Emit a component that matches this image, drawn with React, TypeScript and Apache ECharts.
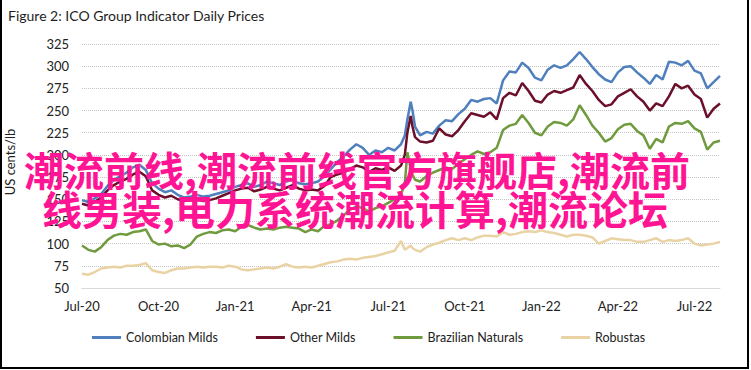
import React, { useEffect, useRef } from 'react';
import * as echarts from 'echarts';

// Sampling positions, in months since 1 July 2020
const MONTHS = [
  0, 0.25, 0.5, 0.75, 1, 1.25, 1.5, 1.75, 2, 2.25, 2.5, 2.75, 3, 3.25, 3.5, 3.75,
  4, 4.25, 4.5, 4.75, 5, 5.25, 5.5, 5.75, 6, 6.25, 6.5, 6.75, 7, 7.25, 7.5, 7.75,
  8, 8.25, 8.5, 8.75, 9, 9.25, 9.5, 9.75, 10, 10.25, 10.5, 10.75, 11, 11.25, 11.5, 11.75,
  12, 12.25, 12.5, 12.65, 12.75, 12.88, 12.95, 13.05,
  13.25, 13.5, 13.75, 14, 14.25, 14.5, 14.75, 15, 15.25, 15.5, 15.75, 16, 16.25, 16.5, 16.75,
  17, 17.25, 17.5, 17.75, 18, 18.25, 18.5, 18.75, 19, 19.25, 19.5, 19.75, 20, 20.25, 20.5, 20.75,
  21, 21.25, 21.5, 21.75, 22, 22.25, 22.5, 22.75, 23, 23.25, 23.5, 23.75, 24, 24.25, 24.5, 24.75, 25,
];

const COLOMBIAN_MILDS = [
  149, 147, 151, 156, 165, 172, 176, 180, 186, 189, 183, 168, 162, 158, 160, 155,
  152, 153, 155, 153, 154, 156, 158, 160, 164, 166, 168, 164, 166, 170, 168, 166,
  170, 172, 168, 167, 168, 170, 176, 184, 192, 198, 206, 212, 208, 200, 205, 203,
  208, 205, 212, 222, 240, 260, 250, 232,
  222, 226, 224, 233, 239, 238, 246, 252, 262, 260, 263, 264, 258, 284, 294,
  293, 304, 298, 287, 284, 296, 301, 298, 301, 308, 316, 308, 299, 291, 285, 282,
  293, 299, 300, 293, 287, 280, 290, 285, 305, 304, 301, 306, 295, 292, 275, 282, 289,
];

const OTHER_MILDS = [
  145, 143, 147, 152, 160, 166, 170, 173, 178, 181, 176, 160, 155, 152, 154, 150,
  148, 149, 150, 148, 149, 151, 154, 157, 160, 162, 163, 159, 161, 164, 162, 160,
  163, 166, 162, 160, 161, 160, 165, 175, 178, 180, 184, 188, 186, 181, 185, 183,
  186, 182, 188, 200, 225, 244, 232, 220,
  215, 214, 216, 230, 223, 221, 228, 238, 247, 245, 243, 248, 240, 264, 270,
  267, 281, 272, 261, 259, 268, 272, 270, 273, 276, 290, 280, 272, 262, 255, 257,
  266, 270, 274, 266, 260, 250, 258, 255, 266, 280, 275, 278, 268, 263, 242, 252, 258,
];

const BRAZILIAN_NATURALS = [
  98, 93, 91, 96, 104, 109, 111, 110, 113, 114, 116, 103, 99, 100, 97, 98,
  95, 99, 108, 111, 113, 112, 115, 116, 114, 119, 121, 118, 116, 117, 116, 118,
  119, 118, 117, 113, 116, 114, 120, 122, 126, 132, 138, 142, 140, 136, 140, 142,
  146, 150, 155, 168, 203, 185, 178, 172,
  170, 176, 180, 183, 186, 184, 190, 195, 200, 204, 201, 203, 208, 228, 233,
  235, 245, 236, 225, 222, 232, 237, 236, 233, 240, 256, 245, 233, 225, 215, 219,
  229, 234, 235, 227, 222, 207, 218, 214, 232, 236, 235, 238, 230, 226, 206, 214, 216,
];

const ROBUSTAS = [
  66, 65, 68, 72, 73, 74, 73, 75, 75, 76, 78, 70, 68, 67, 70, 72,
  72, 73, 74, 73, 74, 74, 73, 75, 74, 71, 70, 71, 72, 73, 72, 74,
  77, 74, 73, 74, 73, 75, 77, 79, 80, 82, 83, 82, 84, 85, 86, 88,
  90, 92, 103, 93, 95, 98, 95, 93,
  91, 96, 99, 101, 104, 106, 104, 106, 104, 107, 109, 109, 108, 113, 110,
  111, 113, 114, 113, 115, 113, 112, 110, 108, 110, 110, 109, 107, 100, 103, 106,
  105, 104, 104, 102, 102, 104, 106, 102, 104, 103, 104, 106, 100, 98, 99, 100, 102,
];

const SERIES_NAMES = ['Colombian Milds', 'Other Milds', 'Brazilian Naturals', 'Robustas'];
const SERIES_VALUES = [COLOMBIAN_MILDS, OTHER_MILDS, BRAZILIAN_NATURALS, ROBUSTAS];
const SERIES_COLORS = ['#4f80bd', '#6b0f2b', '#6f9a3d', '#e9d3a4'];

const X_TICK_LABELS = ['Jul-20', 'Oct-20', 'Jan-21', 'Apr-21', 'Jul-21', 'Oct-21', 'Jan-22', 'Apr-22', 'Jul-22'];
const TITLE = 'Figure 2: ICO Group Indicator Daily Prices';
const Y_NAME = 'US cents/lb';
const OVERLAY_LINES = ['潮流前线,潮流前线官方旗舰店,潮流前', '线男装,电力系统潮流计算,潮流论坛'];

const FONT = 'Lato, "Noto Sans", sans-serif';

export default function App() {
  const ref = useRef<HTMLDivElement>(null);

  useEffect(() => {
    document.body.style.margin = '0';
    if (!ref.current) return;
    const chart = echarts.init(ref.current, null, { renderer: 'svg' });

    const series = SERIES_NAMES.map((name, s) => ({
      name,
      type: 'line',
      data: MONTHS.map((m, i) => [m, SERIES_VALUES[s][i]]),
      showSymbol: false,
      symbol: 'none',
      lineStyle: { width: 2.5, color: SERIES_COLORS[s] },
      itemStyle: { color: SERIES_COLORS[s] },
      z: 2 + s,
    }));

    chart.setOption({
      animation: false,
      textStyle: { fontFamily: FONT },
      title: {
        text: TITLE,
        left: 3,
        top: 3,
        textStyle: { fontSize: 14, fontWeight: 'normal', color: '#1e1e1e', fontFamily: FONT },
      },
      grid: { left: 82, right: 31, top: 44, bottom: 82, containLabel: false },
      legend: {
        data: SERIES_NAMES,
        left: 87,
        top: 326,
        icon: 'rect',
        itemWidth: 29,
        itemHeight: 3,
        itemGap: 38,
        textStyle: { fontSize: 12.5, color: '#222', fontFamily: FONT },
      },
      xAxis: {
        type: 'value',
        min: 0,
        max: 25,
        interval: 3,
        axisLine: { show: true, lineStyle: { color: '#d9d9d9', width: 1 } },
        axisTick: { show: false },
        splitLine: { show: false },
        axisLabel: {
          fontSize: 13,
          color: '#222',
          margin: 11,
          fontFamily: FONT,
          formatter: (v: number) => (v % 3 === 0 && X_TICK_LABELS[v / 3]) ? X_TICK_LABELS[v / 3] : '',
        },
      },
      yAxis: {
        type: 'value',
        min: 50,
        max: 325,
        interval: 25,
        axisLine: { show: false },
        axisTick: { show: false },
        splitLine: { show: true, lineStyle: { type: 'dotted', color: '#c4c4c4', width: 1 } },
        axisLabel: { fontSize: 13, color: '#222', margin: 13, fontFamily: FONT },
      },
      series,
      graphic: [
        {
          type: 'text',
          x: 10,
          y: 162,
          rotation: Math.PI / 2,
          style: {
            text: Y_NAME,
            fontSize: 13,
            fill: '#222',
            fontFamily: FONT,
            textAlign: 'center',
            textVerticalAlign: 'middle',
          },
        },
        {
          type: 'text',
          x: 24,
          y: 169,
          z: 100,
          style: {
            text: OVERLAY_LINES[0],
            fontSize: 40,
            fontWeight: 'bold',
            fill: '#ff1493',
            fontFamily: '"Noto Sans CJK SC"',
            textAlign: 'left',
            textVerticalAlign: 'middle',
          },
        },
        {
          type: 'text',
          x: 42,
          y: 208,
          z: 100,
          style: {
            text: OVERLAY_LINES[1],
            fontSize: 40,
            fontWeight: 'bold',
            fill: '#ff1493',
            fontFamily: '"Noto Sans CJK SC"',
            textAlign: 'left',
            textVerticalAlign: 'middle',
          },
        },
        {
          type: 'rect',
          shape: { x: 1, y: -10, width: 747, height: 378 },
          style: { fill: 'none', stroke: '#000', lineWidth: 2 },
          z: 100,
        },
      ],
    });

    return () => chart.dispose();
  }, []);

  return <div ref={ref} style={{ width: 751, height: 370 }} />;
}
